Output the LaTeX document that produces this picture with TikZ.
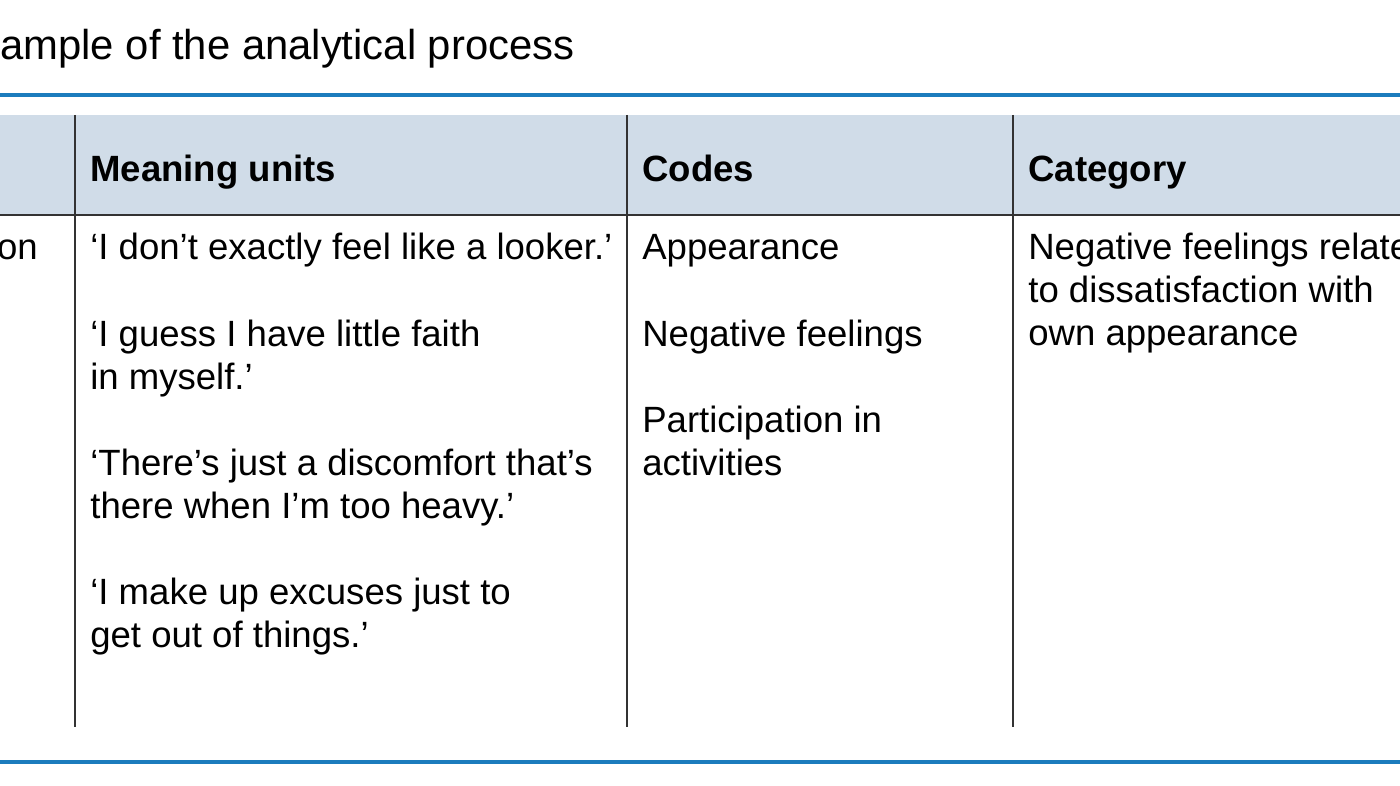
\documentclass[tikz,border=0pt]{standalone}
\usepackage{fontspec}
\setmainfont{Liberation Sans}
\definecolor{ruleblue}{HTML}{1C7CBD}
\definecolor{headfill}{HTML}{D0DCE8}
\tikzset{
  celltext/.style={anchor=base west, inner sep=0pt, font=\fontsize{20.8}{25}\selectfont},
  headtext/.style={celltext, font=\fontsize{20.8}{25}\selectfont\bfseries},
  bluerule/.style={draw=ruleblue, line width=2.2pt},
  colrule/.style={draw=black!80, line width=0.6pt}
}
\begin{document}
\begin{tikzpicture}[x=0.02cm, y=-0.02cm]
  \useasboundingbox (0,0) rectangle (1400,786);
  \clip (0,0) rectangle (1400,786);
  % title and rules
  \node[celltext, font=\fontsize{23.8}{28}\selectfont] (title) at (0,60) {ample of the analytical process};
  \draw[bluerule] (0,95) -- (1400,95);
  \draw[bluerule] (0,762) -- (1400,762);
  \fill[headfill] (0,115) rectangle (1400,215);
  \draw[colrule] (0,215) -- (1400,215);
  \foreach \x in {75,627,1013}
    \draw[colrule] (\x,115) -- (\x,727);
  % header
  \node[headtext] (hmu) at (90,182) {Meaning units};
  \node[headtext] (hcodes) at (642,182) {Codes};
  \node[headtext] (hcat) at (1028,182) {Category};
  % body
  \node[celltext, anchor=base east] (cond) at (38,260) {on};
  \foreach \y/\t in {260/{‘I don’t exactly feel like a looker.’},
                     347/{‘I guess I have little faith},
                     390/{in myself.’},
                     476/{‘There’s just a discomfort that’s},
                     519/{there when I’m too heavy.’},
                     605/{‘I make up excuses just to},
                     648/{get out of things.’}}
    \node[celltext] at (90,\y) {\t};
  \foreach \y/\t in {260/Appearance, 347/Negative feelings,
                     433/Participation in, 476/activities}
    \node[celltext] at (642,\y) {\t};
  \foreach \y/\t in {260/Negative feelings related,
                     303/to dissatisfaction with,
                     346/own appearance}
    \node[celltext] at (1028,\y) {\t};
\end{tikzpicture}
\end{document}
